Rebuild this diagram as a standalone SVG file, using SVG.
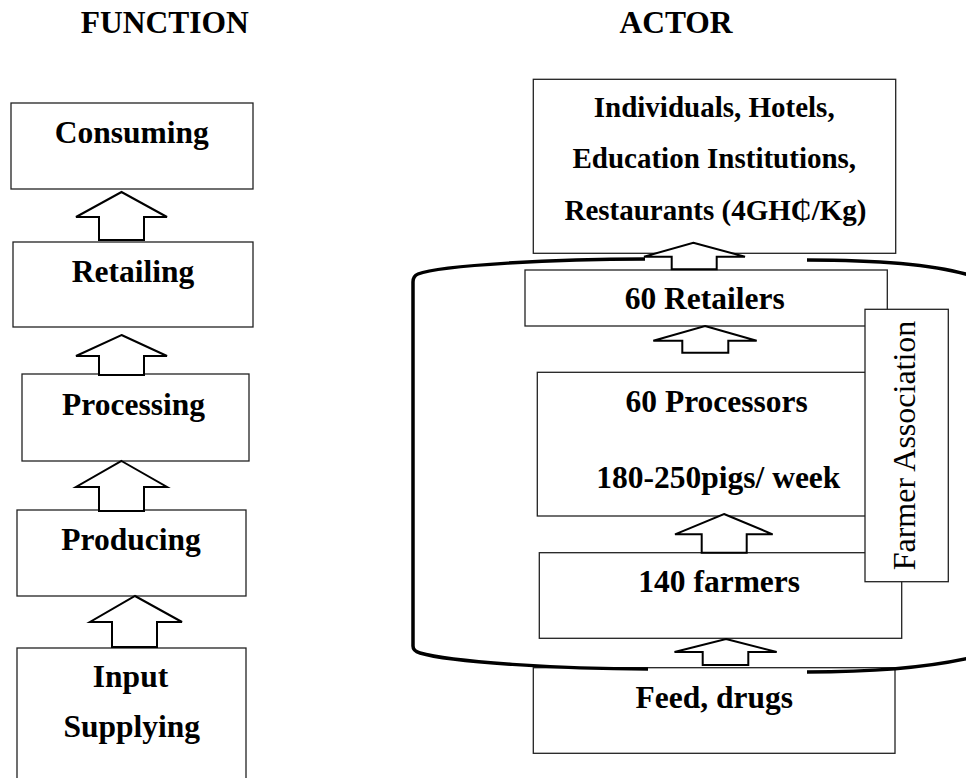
<svg xmlns="http://www.w3.org/2000/svg" width="966" height="778" viewBox="0 0 966 778">
<style>
.box{fill:#fff;stroke:#222;stroke-width:1.3}
.t{font-family:"Liberation Serif","Times New Roman",serif;font-weight:bold;font-size:31.5px;fill:#000;text-anchor:middle}
.ts{font-size:29px}
.fa{font-family:"Liberation Serif","Times New Roman",serif;font-size:32px;fill:#000;text-anchor:middle}
.arr{fill:#fff;stroke:#000;stroke-width:2;stroke-linejoin:miter}
.brk{fill:none;stroke:#000;stroke-width:3.5;stroke-linecap:butt}
</style>
<rect width="966" height="778" fill="#fff"/>
<g id="headers">
<text class="t" x="164.7" y="33.3">FUNCTION</text>
<text class="t" x="676" y="33.3">ACTOR</text>
</g>
<g id="n-consuming"><rect class="box" x="11" y="103" width="242" height="86"/><text class="t" x="131.8" y="143.3">Consuming</text></g>
<g id="n-retailing"><rect class="box" x="13" y="242" width="240" height="85"/><text class="t" x="133" y="282">Retailing</text></g>
<g id="n-processing"><rect class="box" x="22" y="374" width="227" height="87"/><text class="t" x="133.5" y="415">Processing</text></g>
<g id="n-producing"><rect class="box" x="17" y="510" width="229" height="86"/><text class="t" x="131" y="550">Producing</text></g>
<g id="n-input"><rect class="box" x="17" y="648" width="229" height="140"/><text class="t" x="130.5" y="687">Input</text><text class="t" x="131.7" y="737">Supplying</text></g>
<g id="n-consumers"><rect class="box" x="533.3" y="79.3" width="362.4" height="174"/>
<text class="t ts" x="714.2" y="116.7">Individuals, Hotels,</text>
<text class="t ts" x="714.3" y="168.3">Education Institutions,</text>
<text class="t ts" x="715.5" y="220">Restaurants (4GH₵/Kg)</text></g>
<g id="n-retailers"><rect class="box" x="525" y="270" width="362.3" height="56"/><text class="t" x="704.7" y="309.3">60 Retailers</text></g>
<g id="n-processors"><rect class="box" x="537.3" y="372.3" width="352" height="143.7"/><text class="t" x="716.7" y="411.7">60 Processors</text><text class="t" x="718.3" y="488.3">180-250pigs/ week</text></g>
<g id="n-farmers"><rect class="box" x="539.3" y="552.7" width="362.4" height="85.6"/><text class="t" x="719.2" y="592.3">140 farmers</text></g>
<g id="n-feed"><rect class="box" x="533.3" y="667.7" width="361.7" height="85.6"/><text class="t" x="714.2" y="708.3">Feed, drugs</text></g>
<g id="n-farmer-association"><rect class="box" x="865" y="309.3" width="83.3" height="272.4"/><text class="fa" transform="translate(915 445.5) rotate(-90)" x="0" y="0">Farmer Association</text></g>
<g id="bracket">
<path class="brk" d="M645 259 C560 259 440 265 418 274 Q413 276 413 282 L413 646 Q413 651 420 653 C450 662 560 669 648 669"/>
<path class="brk" d="M807 260 C870 260 940 264 978 278"/>
<path class="brk" d="M807 672 C870 672 930 668 978 656"/>
</g>
<g id="connectors">
<path class="arr" d="M121.5 192 L167 217 L144 217 L144 240 L99 240 L99 217 L76 217 Z"/>
<path class="arr" d="M121.5 335 L167 356 L144 356 L144 375 L99 375 L99 356 L76 356 Z"/>
<path class="arr" d="M121.5 461 L167 487 L144 487 L144 511 L99 511 L99 487 L76 487 Z"/>
<path class="arr" d="M135 596 L182 622 L157 622 L157 647 L112 647 L112 622 L90 622 Z"/>
<path class="arr" d="M693.3 242.7 L745 256.7 L716.7 256.7 L716.7 269.3 L671.7 269.3 L671.7 256.7 L644 256.7 Z"/>
<path class="arr" d="M705 326 L756.7 340.7 L728.3 340.7 L728.3 352.7 L682.3 352.7 L682.3 340.7 L653.3 340.7 Z"/>
<path class="arr" d="M724 514 L772.7 534.3 L746.7 534.3 L746.7 552.7 L701.7 552.7 L701.7 534.3 L675 534.3 Z"/>
<path class="arr" d="M726 639 L776.7 652 L748.3 652 L748.3 665 L702.7 665 L702.7 652 L674.5 652 Z"/>
</g>
</svg>
